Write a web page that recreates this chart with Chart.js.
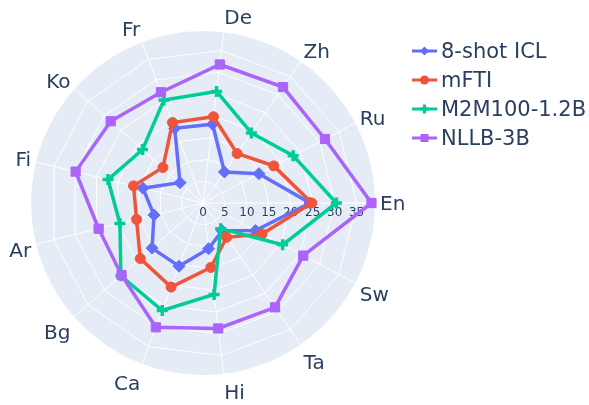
<!DOCTYPE html>
<html><head><meta charset="utf-8">
<script src="https://cdn.jsdelivr.net/npm/chart.js@4"></script>
<style>
html,body{margin:0;padding:0;background:#fff;}
#wrap{position:relative;width:589px;height:405px;overflow:hidden;}
canvas{position:absolute;left:0;top:0;}
#legend{position:absolute;left:412px;top:36px;font-family:"DejaVu Sans",sans-serif;font-size:21px;color:#2a3f5f;}
.row{height:29px;display:flex;align-items:center;white-space:nowrap;}
.row svg{width:25px;height:14px;margin-right:4px;flex:none;}
</style></head><body>
<div id="wrap"><canvas id="c" width="589" height="405"></canvas><div id="legend"></div></div>
<script>
// categories in drawing order (clockwise from the right-hand axis)
const categories = ['En','Sw','Ta','Hi','Ca','Bg','Ar','Fi','Ko','Fr','De','Zh','Ru'];
const seriesNames = ['8-shot ICL','mFTI','M2M100-1.2B','NLLB-3B'];
const iclValues  = [24.4, 13.5, 7.7, 10.5, 15.4, 15.5, 11.5, 14.1, 7.0, 18.2, 18.1, 8.6, 14.4];
const mftiValues = [24.8, 15.2, 9.5, 14.8, 20.5, 19.1, 15.6, 16.3, 12.2, 19.6, 19.8, 13.7, 18.2];
const m2mValues  = [30.4, 20.5, 7.1, 21.0, 26.2, 25.0, 19.5, 22.3, 18.4, 25.1, 25.6, 19.4, 23.2];
const nllbValues = [38.4, 25.8, 28.9, 28.8, 30.3, 24.8, 24.5, 29.9, 28.1, 27.0, 31.8, 32.1, 31.4];
const radialTicks = [0, 5, 10, 15, 20, 25, 30, 35];

const colors = ['#636efa', '#EF553B', '#00cc96', '#ab63fa'];
const styles = ['rectRot', 'circle', 'cross', 'rect'];
const radii = [6, 5, 5.5, 6.5];
const values = [iclValues, mftiValues, m2mValues, nllbValues];
const TEXT = '#2a3f5f';

const datasets = values.map((v, i) => ({
  label: seriesNames[i],
  data: v,
  borderColor: colors[i],
  backgroundColor: colors[i],
  pointBackgroundColor: colors[i],
  pointBorderColor: colors[i],
  pointStyle: styles[i],
  pointRadius: radii[i],
  pointBorderWidth: styles[i] === 'cross' ? 3.5 : 1,
  borderWidth: 3.5,
  fill: false,
  tension: 0,
  order: 4 - i
}));

const bgPlugin = {
  id: 'polarBg',
  beforeDraw(chart) {
    const s = chart.scales.r, ctx = chart.ctx;
    ctx.save();
    ctx.fillStyle = '#E5ECF6';
    ctx.beginPath();
    ctx.arc(s.xCenter, s.yCenter, s.drawingArea, 0, Math.PI * 2);
    ctx.fill();
    ctx.restore();
  },
  beforeDatasetsDraw(chart) {
    const s = chart.scales.r, ctx = chart.ctx;
    ctx.save();
    ctx.font = '12px "DejaVu Sans"';
    ctx.fillStyle = TEXT;
    ctx.textAlign = 'center';
    ctx.textBaseline = 'middle';
    radialTicks.forEach(t => {
      const p = s.getPointPositionForValue(0, t);
      ctx.fillText(String(t), p.x, p.y + 10);
    });
    ctx.restore();
  },
  afterDatasetsDraw(chart) {
    const s = chart.scales.r, ctx = chart.ctx;
    const fs = 20, pad = 5;
    ctx.save();
    ctx.font = fs + 'px "DejaVu Sans"';
    ctx.fillStyle = TEXT;
    ctx.textBaseline = 'alphabetic';
    categories.forEach((lab, i) => {
      const p = s.getPointPosition(i, s.drawingArea);
      const c = Math.cos(p.angle), sn = -Math.sin(p.angle);
      ctx.textAlign = Math.abs(c) < 0.1 ? 'center' : (c > 0 ? 'left' : 'right');
      const ff = sn > 0 ? 0.2 : 1;
      const x = p.x + c * pad;
      const y = p.y - sn * (pad + fs * ff) + Math.abs(c) * fs * 0.35;
      ctx.fillText(lab, x, y);
    });
    ctx.restore();
  }
};

new Chart(document.getElementById('c'), {
  type: 'radar',
  data: { labels: categories, datasets },
  options: {
    responsive: false,
    animation: false,
    devicePixelRatio: 1,
    layout: { padding: { left: 31, right: 214, top: 31, bottom: 30 } },
    plugins: { legend: { display: false }, tooltip: { enabled: false } },
    events: [],
    scales: {
      r: {
        startAngle: 90,
        min: 0,
        max: 39.2,
        ticks: { display: false, stepSize: 5 },
        pointLabels: { display: false },
        grid: {
          color: ctx => (ctx.tick && ctx.tick.value % 5 === 0) ? '#ffffff' : 'rgba(0,0,0,0)',
          lineWidth: 1
        },
        angleLines: { color: '#ffffff', lineWidth: 1 }
      }
    }
  },
  plugins: [bgPlugin]
});

// legend
function symbolSvg(i) {
  const c = colors[i];
  let m = '';
  if (styles[i] === 'rectRot') m = `<polygon points="12.5,2.5 17,7 12.5,11.5 8,7" fill="${c}"/>`;
  else if (styles[i] === 'circle') m = `<circle cx="12.5" cy="7" r="4.5" fill="${c}"/>`;
  else if (styles[i] === 'cross') m = `<path d="M12.5 2.5V11.5M8 7H17" stroke="${c}" stroke-width="3.2"/>`;
  else m = `<rect x="8.5" y="3" width="8" height="8" fill="${c}"/>`;
  return `<svg viewBox="0 0 25 14"><line x1="0" y1="7" x2="25" y2="7" stroke="${c}" stroke-width="3"/>${m}</svg>`;
}
const leg = document.getElementById('legend');
seriesNames.forEach((n, i) => {
  const r = document.createElement('div');
  r.className = 'row';
  r.innerHTML = symbolSvg(i) + '<span></span>';
  r.querySelector('span').textContent = n;
  leg.appendChild(r);
});
</script>
</body></html>
